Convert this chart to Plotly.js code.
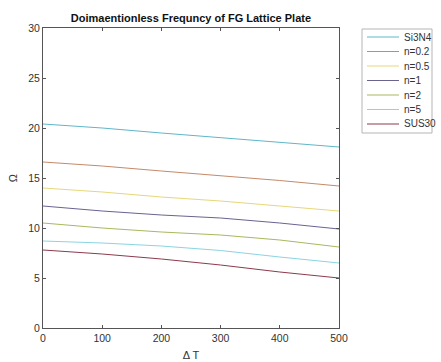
<!DOCTYPE html>
<html>
<head>
<meta charset="utf-8">
<script src="https://cdn.plot.ly/plotly-3.0.1.min.js"></script>
<style>html,body{margin:0;padding:0;background:#fff;}#chart{width:441px;height:362px;}</style>
</head>
<body>
<div id="chart"></div>
<script>
var deltaT = [0, 100, 200, 300, 400, 500];
var names = ["Si3N4", "n=0.2", "n=0.5", "n=1", "n=2", "n=5", "SUS30"];
var si3n4 = [20.4, 20.0, 19.5, 19.05, 18.6, 18.1];
var n02   = [16.6, 16.2, 15.7, 15.25, 14.75, 14.2];
var n05   = [14.0, 13.6, 13.1, 12.7, 12.2, 11.7];
var n1    = [12.2, 11.7, 11.3, 11.0, 10.5, 9.9];
var n2    = [10.5, 10.0, 9.6, 9.3, 8.8, 8.1];
var n5    = [8.7, 8.5, 8.2, 7.75, 7.1, 6.5];
var sus30 = [7.8, 7.4, 6.9, 6.3, 5.6, 5.0];
var xTicks = [0, 100, 200, 300, 400, 500];
var yTicks = [0, 5, 10, 15, 20, 25, 30];

var series = [si3n4, n02, n05, n1, n2, n5, sus30];
var colors = ["#5fb6c9", "#c48a6a", "#e6d77a", "#6b6290", "#a9b85e", "#8ad4e4", "#8c3a4c"];

var traces = series.map(function (ys, i) {
  return {
    x: deltaT, y: ys, name: names[i], type: "scatter", mode: "lines",
    line: {color: colors[i], width: 1}
  };
});

// plot area geometry (pixels) used to place the MATLAB-style legend box
var W = 441, H = 362, L = 43, R = 102, T = 28, B = 34;
var pw = W - L - R, ph = H - T - B;
function px2x(px) { return (px - L) / pw; }
function py2y(py) { return (H - B - py) / ph; }

var shapes = [{
  type: "rect", xref: "paper", yref: "paper",
  x0: px2x(362), x1: px2x(432), y0: py2y(133), y1: py2y(29),
  line: {color: "#b5b5b5", width: 1}, fillcolor: "#fff"
}];
var annotations = [];
names.forEach(function (nm, i) {
  var yy = py2y(37 + 14.5 * i);
  shapes.push({
    type: "line", xref: "paper", yref: "paper",
    x0: px2x(367), x1: px2x(399), y0: yy, y1: yy,
    line: {color: colors[i], width: 1}
  });
  annotations.push({
    xref: "paper", yref: "paper", x: px2x(402), y: yy,
    xanchor: "left", yanchor: "middle", showarrow: false,
    text: nm, font: {size: 10, color: "#333"}
  });
});

var axisCommon = {
  showgrid: false, zeroline: false, showline: true, mirror: "ticks",
  linecolor: "#555", linewidth: 1, ticks: "inside", ticklen: 3, tickcolor: "#555",
  tickfont: {family: "Liberation Sans, Arial, sans-serif", size: 10.5, color: "#333"}
};

var layout = {
  width: W, height: H,
  margin: {l: L, r: R, t: T, b: B},
  paper_bgcolor: "#fff", plot_bgcolor: "#fff",
  font: {family: "Liberation Sans, Arial, sans-serif", color: "#333"},
  title: {
    text: "<b>Doimaentionless Frequncy of FG Lattice Plate</b>",
    font: {size: 11, color: "#111"},
    x: 0.433, xanchor: "center", y: 0.95, yanchor: "middle"
  },
  xaxis: Object.assign({}, axisCommon, {
    range: [0, 500], tickvals: xTicks, ticktext: xTicks.map(String), automargin: false,
    title: {text: "Δ T", font: {size: 11, color: "#333"}, standoff: 8}
  }),
  yaxis: Object.assign({}, axisCommon, {
    range: [0, 30], tickvals: yTicks, ticktext: yTicks.map(String), automargin: false,
    title: {text: "Ω", font: {size: 11, color: "#333"}, standoff: 8}
  }),
  showlegend: false,
  shapes: shapes,
  annotations: annotations
};

Plotly.newPlot("chart", traces, layout, {displayModeBar: false, staticPlot: true});
</script>
</body>
</html>
